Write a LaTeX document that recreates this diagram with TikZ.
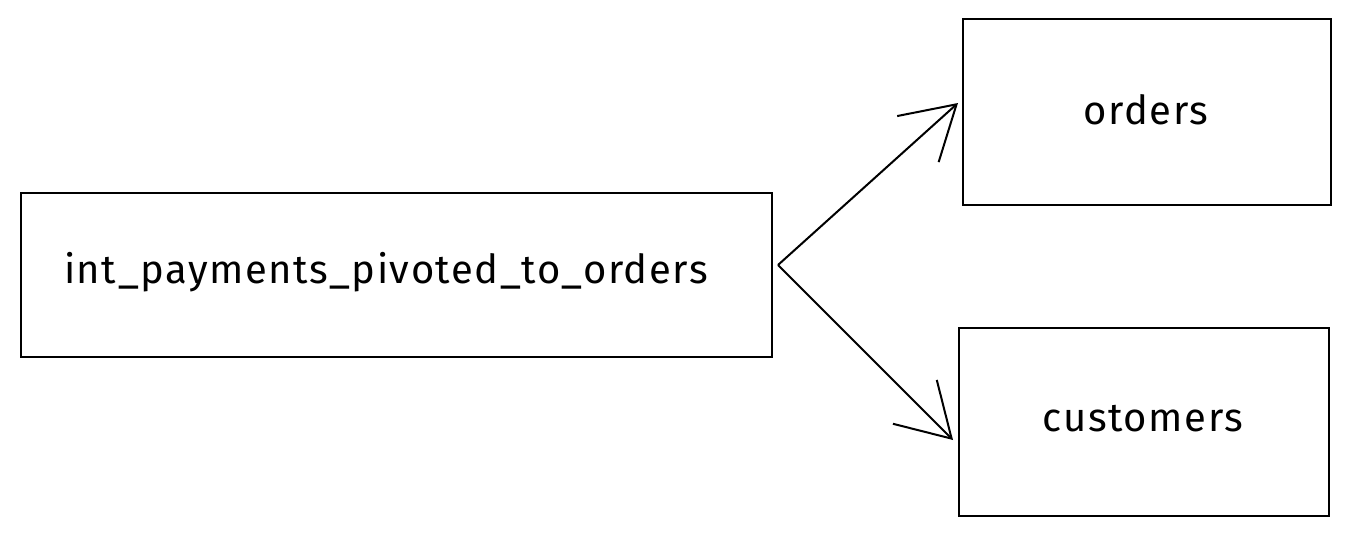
\documentclass[tikz,border=0pt]{standalone}
\usepackage{fontspec}
\setmainfont{Fira Sans}
\usetikzlibrary{arrows.meta}
\begin{document}
\begin{tikzpicture}[x=1pt,y=-1pt,
  box/.style={draw=black, line width=2pt, inner sep=0pt, anchor=north west},
  lbl/.style={font=\fontsize{40}{46}\selectfont\addfontfeature{LetterSpace=4}, text=black},
  conn/.style={draw=black, line width=2pt, -{Straight Barb[length=52pt,width=62pt,line width=2pt]}}]
\useasboundingbox[fill=white] (0,0) rectangle (1348,533);
\node[box, minimum width=751pt, minimum height=164pt] (src) at (20,192) {};
\node[box, minimum width=368pt, minimum height=186pt] (ord) at (962,18) {};
\node[box, minimum width=370pt, minimum height=188pt] (cus) at (958,327) {};
\node[lbl] (srct) at (386,272) {int\_payments\_pivoted\_to\_orders};
\node[lbl] (ordt) at (1146,110) {orders};
\node[lbl] (cust) at (1143,419) {customers};
\coordinate (start) at (778,265);
\coordinate (ordend) at (958,103);
\coordinate (cusend) at (953,440);
\draw[conn] (start) -- (ordend);
\draw[conn] (start) -- (cusend);
\end{tikzpicture}
\end{document}
